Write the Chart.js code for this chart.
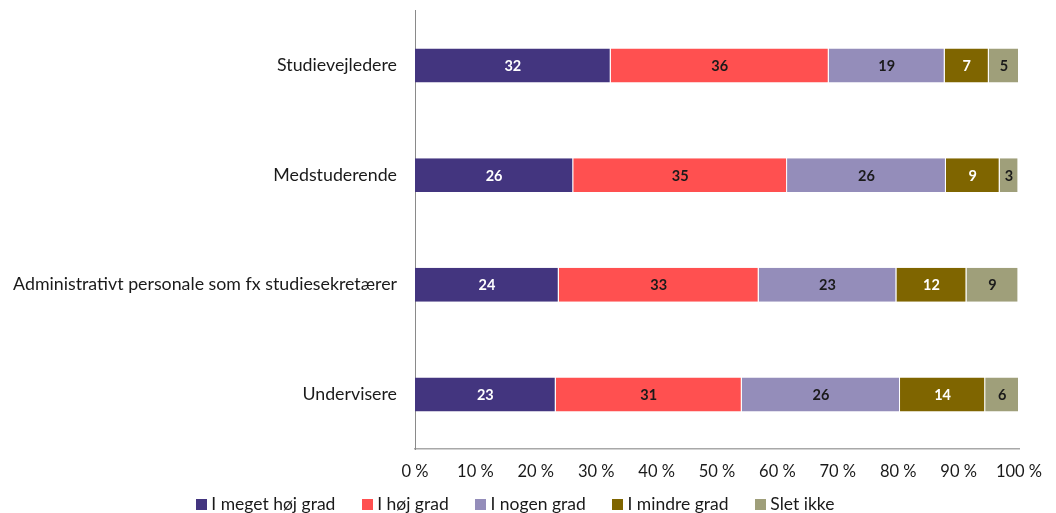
<!DOCTYPE html>
<html>
<head>
<meta charset="utf-8">
<script src="https://cdn.jsdelivr.net/npm/chart.js@4/dist/chart.umd.min.js"></script>
<style>
  html,body{margin:0;padding:0;background:#fff;}
  #wrap{width:1056px;height:513px;}
</style>
</head>
<body>
<div id="wrap"><canvas id="c"></canvas></div>
<script>
const categories = ['Studievejledere', 'Medstuderende', 'Administrativt personale som fx studiesekretærer', 'Undervisere'];
const seriesNames = ['I meget høj grad', 'I høj grad', 'I nogen grad', 'I mindre grad', 'Slet ikke'];
const meget = [32.4, 26.2, 23.8, 23.3];
const hoej = [36.1, 35.4, 33.1, 30.8];
const nogen = [19.2, 26.3, 22.8, 26.2];
const mindre = [7.3, 8.9, 11.6, 14.1];
const slet = [5.0, 3.1, 8.6, 5.6];
const xTicks = [0, 10, 20, 30, 40, 50, 60, 70, 80, 90, 100];

const colors = ['#43357f', '#ff5050', '#948dba', '#7f6500', '#9f9f7a'];
const labelColors = ['#ffffff', '#1a1a1a', '#1a1a1a', '#ffffff', '#1a1a1a'];
const FONT = 'Lato, "Liberation Sans", sans-serif';

// small square swatches for the legend (tight gap to the text)
const swatches = colors.map(c => {
  const cv = document.createElement('canvas');
  cv.width = 11; cv.height = 11;
  const g = cv.getContext('2d');
  g.fillStyle = c; g.fillRect(0, 0, 11, 11);
  return cv;
});

// draw the rounded value in the middle of each segment
const barLabels = {
  id: 'barLabels',
  afterDatasetsDraw(chart){
    const ctx = chart.ctx;
    ctx.save();
    ctx.font = 'bold 14.5px ' + FONT;
    ctx.textAlign = 'center';
    ctx.textBaseline = 'middle';
    chart.data.datasets.forEach((ds, i) => {
      chart.getDatasetMeta(i).data.forEach((bar, j) => {
        const cx = (bar.x + bar.base) / 2;
        ctx.fillStyle = labelColors[i];
        ctx.fillText(Math.round(ds.data[j]), cx, bar.y + 1);
      });
    });
    ctx.restore();
  }
};

// keep the legend short and tuck it just under the tick labels
const legendSpot = {
  id: 'legendSpot',
  beforeLayout(chart){
    const lg = chart.legend;
    if (lg && !lg._patched) {
      const fit = lg.fit;
      lg.fit = function(){ fit.call(this); this.height = 18; };
      lg._patched = true;
    }
  },
  afterLayout(chart){
    const lg = chart.legend;
    lg.top = 465; lg.bottom = chart.height;
    lg.left += 8; lg.right += 8;
  }
};

const allSeries = [meget, hoej, nogen, mindre, slet];
new Chart(document.getElementById('c').getContext('2d'), {
  type: 'bar',
  data: {
    labels: categories,
    datasets: allSeries.map((d, i) => ({
      label: seriesNames[i], data: d, backgroundColor: colors[i],
      borderColor: 'rgba(255,255,255,0.8)', borderWidth: {top: 0, bottom: 0, right: 1, left: 0},
      barPercentage: 0.62, categoryPercentage: 0.5
    }))
  },
  options: {
    indexAxis: 'y',
    responsive: true,
    maintainAspectRatio: false,
    animation: false,
    layout: {padding: {top: 0, right: 37, left: 0, bottom: 0}},
    plugins: {
      legend: {
        position: 'bottom',
        labels: {
          usePointStyle: true, pointStyleWidth: 2, boxHeight: 11, padding: 31,
          color: '#1a1a1a', font: {family: FONT, size: 17.5},
          generateLabels(chart){
            const items = Chart.defaults.plugins.legend.labels.generateLabels(chart);
            items.forEach((it, i) => { it.pointStyle = swatches[i]; });
            return items;
          }
        }
      },
      tooltip: {enabled: false}
    },
    scales: {
      x: {
        stacked: true, min: 0, max: 100,
        grid: {display: false, drawTicks: false},
        border: {display: true, color: '#a8a8a8', width: 1.5},
        afterBuildTicks(axis){ axis.ticks = xTicks.map(v => ({value: v})); },
        ticks: {color: '#1a1a1a', font: {family: FONT, size: 16.5}, padding: 13, callback: v => v + ' %'}
      },
      y: {
        stacked: true,
        afterFit(axis){ axis.width = 415; },
        grid: {display: false, drawTicks: true, tickLength: 18},
        border: {display: true, color: '#8a8a8a', width: 1},
        ticks: {color: '#1a1a1a', font: {family: FONT, size: 17.8}, padding: 0}
      }
    }
  },
  plugins: [barLabels, legendSpot]
});
</script>
</body>
</html>
